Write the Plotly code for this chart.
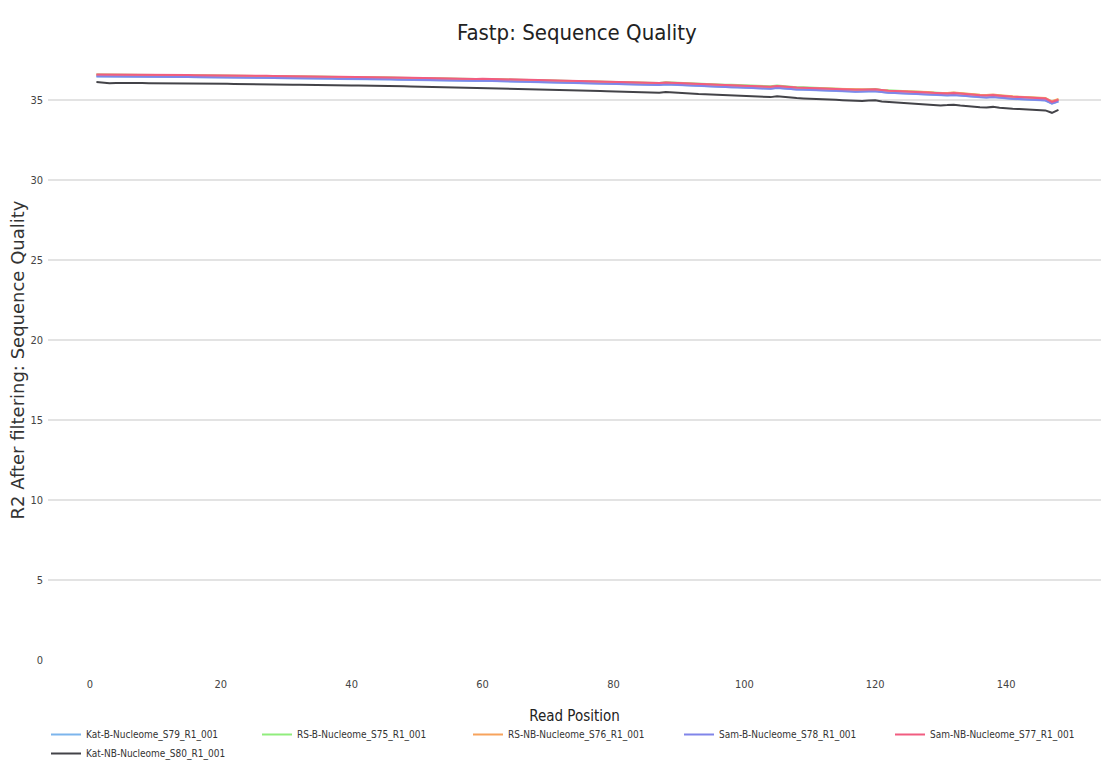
import plotly.graph_objects as go

# Read positions along the R2 read after filtering
positions = list(range(1, 149))

kat_b = [
    36.47, 36.47, 36.47, 36.46, 36.46, 36.46, 36.45, 36.45, 36.45, 36.44,
    36.44, 36.44, 36.43, 36.43, 36.43, 36.42, 36.42, 36.41, 36.41, 36.40,
    36.40, 36.40, 36.39, 36.39, 36.38, 36.38, 36.38, 36.37, 36.37, 36.36,
    36.36, 36.35, 36.35, 36.34, 36.34, 36.33, 36.33, 36.32, 36.32, 36.31,
    36.31, 36.30, 36.30, 36.29, 36.28, 36.28, 36.27, 36.26, 36.26, 36.25,
    36.24, 36.23, 36.23, 36.22, 36.21, 36.20, 36.21, 36.20, 36.19, 36.20,
    36.19, 36.18, 36.17, 36.16, 36.15, 36.14, 36.13, 36.14, 36.12, 36.11,
    36.11, 36.10, 36.09, 36.07, 36.06, 36.05, 36.04, 36.02, 36.01, 36.00,
    35.99, 35.97, 35.96, 35.94, 35.93, 35.92, 35.93, 35.97, 35.95, 35.91,
    35.89, 35.87, 35.86, 35.85, 35.83, 35.81, 35.80, 35.79, 35.78, 35.76,
    35.75, 35.73, 35.71, 35.70, 35.75, 35.71, 35.67, 35.65, 35.64, 35.63,
    35.62, 35.60, 35.58, 35.57, 35.55, 35.53, 35.51, 35.50, 35.53, 35.54,
    35.48, 35.45, 35.43, 35.41, 35.40, 35.39, 35.37, 35.34, 35.30, 35.27,
    35.28, 35.31, 35.27, 35.22, 35.20, 35.17, 35.15, 35.18, 35.14, 35.09,
    35.07, 35.05, 35.03, 35.02, 35.01, 34.97, 34.77, 34.91,
]

rs_b = [
    36.59, 36.59, 36.59, 36.58, 36.58, 36.58, 36.57, 36.57, 36.57, 36.56,
    36.56, 36.56, 36.55, 36.55, 36.55, 36.54, 36.54, 36.53, 36.53, 36.52,
    36.52, 36.52, 36.51, 36.51, 36.50, 36.50, 36.50, 36.49, 36.49, 36.48,
    36.48, 36.47, 36.47, 36.46, 36.46, 36.45, 36.45, 36.44, 36.44, 36.43,
    36.43, 36.42, 36.42, 36.41, 36.40, 36.40, 36.39, 36.38, 36.38, 36.37,
    36.36, 36.35, 36.35, 36.34, 36.33, 36.32, 36.33, 36.32, 36.31, 36.32,
    36.31, 36.30, 36.29, 36.28, 36.27, 36.26, 36.25, 36.26, 36.24, 36.23,
    36.23, 36.22, 36.21, 36.19, 36.18, 36.17, 36.16, 36.15, 36.14, 36.13,
    36.12, 36.10, 36.09, 36.08, 36.07, 36.06, 36.07, 36.11, 36.09, 36.06,
    36.05, 36.03, 36.02, 36.01, 35.99, 35.97, 35.96, 35.95, 35.94, 35.92,
    35.91, 35.89, 35.87, 35.86, 35.90, 35.86, 35.82, 35.80, 35.79, 35.78,
    35.76, 35.74, 35.72, 35.71, 35.69, 35.67, 35.65, 35.64, 35.67, 35.68,
    35.62, 35.59, 35.57, 35.55, 35.54, 35.53, 35.51, 35.48, 35.44, 35.41,
    35.42, 35.45, 35.41, 35.36, 35.34, 35.31, 35.29, 35.32, 35.28, 35.23,
    35.21, 35.19, 35.17, 35.16, 35.15, 35.11, 34.89, 35.03,
]

rs_nb = [
    36.58, 36.58, 36.58, 36.57, 36.57, 36.57, 36.56, 36.56, 36.56, 36.55,
    36.55, 36.55, 36.54, 36.54, 36.54, 36.53, 36.53, 36.52, 36.52, 36.51,
    36.51, 36.51, 36.50, 36.50, 36.49, 36.49, 36.49, 36.48, 36.48, 36.47,
    36.47, 36.46, 36.46, 36.45, 36.45, 36.44, 36.44, 36.43, 36.43, 36.42,
    36.42, 36.41, 36.41, 36.40, 36.39, 36.39, 36.38, 36.37, 36.37, 36.36,
    36.35, 36.34, 36.34, 36.33, 36.32, 36.31, 36.32, 36.31, 36.30, 36.31,
    36.30, 36.29, 36.28, 36.27, 36.26, 36.25, 36.24, 36.25, 36.23, 36.22,
    36.22, 36.21, 36.20, 36.18, 36.17, 36.16, 36.15, 36.13, 36.12, 36.11,
    36.10, 36.08, 36.07, 36.05, 36.04, 36.03, 36.04, 36.08, 36.06, 36.02,
    36.00, 35.98, 35.97, 35.96, 35.94, 35.92, 35.91, 35.90, 35.89, 35.87,
    35.86, 35.84, 35.82, 35.81, 35.86, 35.82, 35.78, 35.76, 35.75, 35.74,
    35.73, 35.71, 35.69, 35.68, 35.66, 35.64, 35.63, 35.62, 35.65, 35.66,
    35.61, 35.58, 35.56, 35.55, 35.55, 35.54, 35.52, 35.50, 35.46, 35.43,
    35.44, 35.47, 35.43, 35.38, 35.36, 35.33, 35.31, 35.34, 35.30, 35.25,
    35.23, 35.21, 35.19, 35.18, 35.17, 35.13, 34.92, 35.06,
]

sam_b = [
    36.48, 36.48, 36.48, 36.47, 36.47, 36.47, 36.46, 36.46, 36.46, 36.45,
    36.45, 36.45, 36.44, 36.44, 36.44, 36.43, 36.43, 36.42, 36.42, 36.41,
    36.41, 36.41, 36.40, 36.40, 36.39, 36.39, 36.39, 36.38, 36.38, 36.37,
    36.37, 36.36, 36.36, 36.35, 36.35, 36.34, 36.34, 36.33, 36.33, 36.32,
    36.32, 36.31, 36.31, 36.30, 36.29, 36.29, 36.28, 36.27, 36.27, 36.26,
    36.25, 36.24, 36.24, 36.23, 36.22, 36.21, 36.22, 36.21, 36.20, 36.21,
    36.20, 36.19, 36.18, 36.17, 36.16, 36.15, 36.14, 36.15, 36.13, 36.12,
    36.12, 36.11, 36.10, 36.08, 36.07, 36.06, 36.05, 36.03, 36.02, 36.01,
    36.00, 35.98, 35.97, 35.95, 35.94, 35.93, 35.94, 35.98, 35.96, 35.92,
    35.90, 35.88, 35.87, 35.86, 35.84, 35.82, 35.81, 35.80, 35.79, 35.77,
    35.76, 35.74, 35.72, 35.71, 35.76, 35.72, 35.68, 35.66, 35.65, 35.64,
    35.63, 35.61, 35.59, 35.58, 35.56, 35.54, 35.52, 35.51, 35.54, 35.55,
    35.49, 35.46, 35.44, 35.42, 35.41, 35.40, 35.38, 35.35, 35.31, 35.28,
    35.29, 35.32, 35.28, 35.23, 35.21, 35.18, 35.16, 35.19, 35.15, 35.10,
    35.08, 35.06, 35.04, 35.03, 35.02, 34.98, 34.78, 34.92,
]

sam_nb = [
    36.60, 36.60, 36.60, 36.59, 36.59, 36.59, 36.58, 36.58, 36.58, 36.57,
    36.57, 36.57, 36.56, 36.56, 36.56, 36.55, 36.55, 36.54, 36.54, 36.53,
    36.53, 36.53, 36.52, 36.52, 36.51, 36.51, 36.51, 36.50, 36.50, 36.49,
    36.49, 36.48, 36.48, 36.47, 36.47, 36.46, 36.46, 36.45, 36.45, 36.44,
    36.44, 36.43, 36.43, 36.42, 36.41, 36.41, 36.40, 36.39, 36.39, 36.38,
    36.37, 36.36, 36.36, 36.35, 36.34, 36.33, 36.34, 36.33, 36.32, 36.33,
    36.32, 36.31, 36.30, 36.29, 36.28, 36.27, 36.26, 36.27, 36.25, 36.24,
    36.24, 36.23, 36.22, 36.20, 36.19, 36.18, 36.17, 36.15, 36.14, 36.13,
    36.12, 36.10, 36.09, 36.07, 36.06, 36.05, 36.06, 36.10, 36.08, 36.04,
    36.02, 36.00, 35.99, 35.98, 35.96, 35.94, 35.93, 35.92, 35.91, 35.89,
    35.88, 35.86, 35.84, 35.83, 35.88, 35.84, 35.80, 35.78, 35.77, 35.76,
    35.75, 35.73, 35.71, 35.70, 35.68, 35.66, 35.64, 35.63, 35.66, 35.67,
    35.61, 35.58, 35.56, 35.54, 35.53, 35.52, 35.50, 35.47, 35.43, 35.40,
    35.41, 35.44, 35.40, 35.35, 35.33, 35.30, 35.28, 35.31, 35.27, 35.22,
    35.20, 35.18, 35.16, 35.15, 35.14, 35.10, 34.88, 35.02,
]

kat_nb = [
    36.12, 36.08, 36.05, 36.06, 36.07, 36.07, 36.06, 36.06, 36.05, 36.05,
    36.05, 36.04, 36.04, 36.04, 36.03, 36.03, 36.02, 36.02, 36.01, 36.01,
    36.01, 36.00, 36.00, 35.99, 35.99, 35.98, 35.98, 35.97, 35.97, 35.96,
    35.96, 35.95, 35.95, 35.94, 35.94, 35.93, 35.93, 35.92, 35.91, 35.91,
    35.90, 35.90, 35.89, 35.88, 35.88, 35.87, 35.86, 35.86, 35.85, 35.84,
    35.84, 35.83, 35.82, 35.81, 35.80, 35.79, 35.80, 35.78, 35.77, 35.78,
    35.76, 35.75, 35.74, 35.73, 35.72, 35.71, 35.69, 35.70, 35.68, 35.67,
    35.66, 35.64, 35.63, 35.62, 35.60, 35.59, 35.57, 35.56, 35.54, 35.53,
    35.51, 35.50, 35.48, 35.47, 35.45, 35.44, 35.45, 35.50, 35.47, 35.43,
    35.41, 35.39, 35.37, 35.36, 35.34, 35.32, 35.30, 35.29, 35.27, 35.25,
    35.23, 35.21, 35.19, 35.18, 35.24, 35.19, 35.14, 35.12, 35.10, 35.09,
    35.07, 35.05, 35.03, 35.01, 34.99, 34.96, 34.94, 34.93, 34.97, 34.98,
    34.91, 34.88, 34.85, 34.83, 34.81, 34.79, 34.77, 34.74, 34.69, 34.66,
    34.68, 34.71, 34.66, 34.61, 34.58, 34.55, 34.53, 34.57, 34.52, 34.47,
    34.45, 34.43, 34.41, 34.40, 34.39, 34.35, 34.20, 34.38,
]

series = [
    ("Kat-B-Nucleome_S79_R1_001", kat_b, "#7cb5ec"),
    ("RS-B-Nucleome_S75_R1_001", rs_b, "#90ed7d"),
    ("RS-NB-Nucleome_S76_R1_001", rs_nb, "#f7a35c"),
    ("Sam-B-Nucleome_S78_R1_001", sam_b, "#8085e9"),
    ("Sam-NB-Nucleome_S77_R1_001", sam_nb, "#f15c80"),
    ("Kat-NB-Nucleome_S80_R1_001", kat_nb, "#434348"),
]

NARROW = "Liberation Sans Narrow, DejaVu Sans Condensed, Arial Narrow, Liberation Sans, sans-serif"

fig = go.Figure()
for name, values, color in series:
    fig.add_trace(go.Scatter(
        x=positions, y=values, name=name, mode="lines",
        line=dict(color=color, width=2),
    ))

fig.update_layout(
    width=1101, height=775,
    paper_bgcolor="white", plot_bgcolor="white",
    margin=dict(l=48, r=0, t=60, b=115),
    title=dict(
        text="Fastp: Sequence Quality",
        x=0.524, xanchor="center", xref="container",
        y=1 - 32 / 775, yanchor="middle", yref="container",
        font=dict(family=NARROW, size=22, color="#222222"),
    ),
    xaxis=dict(
        range=[-6.4, 154.5],
        tickvals=[0, 20, 40, 60, 80, 100, 120, 140],
        showgrid=False, zeroline=False, showline=False,
        ticks="", ticklabelstandoff=16,
        tickfont=dict(family=NARROW, size=11, color="#444444"),
        title=dict(text="Read Position", standoff=20,
                   font=dict(family=NARROW, size=15, color="#222222")),
    ),
    yaxis=dict(
        range=[0, 37.5],
        tickvals=[0, 5, 10, 15, 20, 25, 30, 35],
        showgrid=True, gridcolor="#e3e3e3", gridwidth=2,
        zeroline=False, showline=False, ticks="",
        ticklabelstandoff=4,
        tickfont=dict(family=NARROW, size=11, color="#444444"),
        title=dict(text="R2 After filtering: Sequence Quality", standoff=1,
                   font=dict(family="DejaVu Sans, Verdana, sans-serif", size=18, color="#333333")),
    ),
    legend=dict(
        orientation="h",
        x=0.0, xanchor="left",
        y=-0.1, yanchor="top",
        entrywidth=166, entrywidthmode="pixels",
        font=dict(family=NARROW, size=10, color="#333333"),
        bgcolor="rgba(0,0,0,0)",
    ),
    showlegend=True,
)

fig.write_html("out.html")
